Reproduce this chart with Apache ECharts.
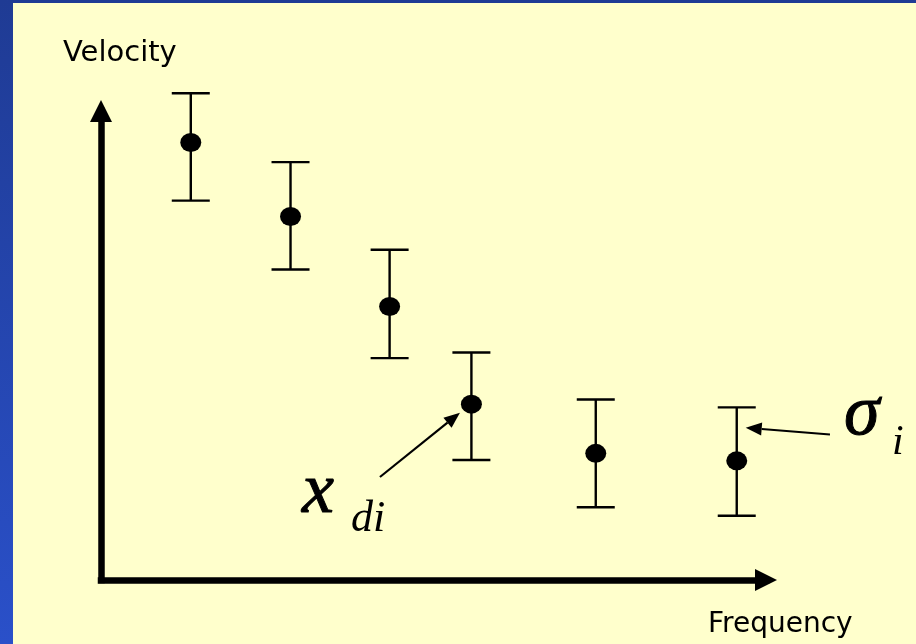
<!DOCTYPE html>
<html>
<head>
<meta charset="utf-8">
<script src="https://cdn.jsdelivr.net/npm/echarts@6/dist/echarts.min.js"></script>
<style>
  html, body { margin: 0; padding: 0; background: #FFFFCC; }
  #chart { width: 916px; height: 644px; }
</style>
</head>
<body>
<div id="chart"></div>
<script>
// Dispersion measurements: velocity against frequency with ±σ error bars
const freq     = [13.5, 28.5, 43.4, 55.7, 74.4, 95.6];
const velocity = [93.3, 77.5, 58.3, 37.5, 27.0, 25.4];
const upper    = [103.8, 89.1, 70.4, 48.5, 38.5, 36.8];
const lower    = [80.9, 66.2, 47.3, 25.6, 15.5, 13.7];

// Annotation arrows (data units): tail -> head
const arrowFrom = [[41.95, 21.96], [109.62, 31.02]];
const arrowTo   = [[53.98, 35.67], [96.95, 32.47]];
const annoMain  = ['x', 'σ'];
const annoSub   = ['di', 'i'];

// Label layout relative to the arrow tail (pixels): [dx, dy, fontSize]
const annoLayout = [
  { main: [-78, 16, 72], sub: [-29, 42, 44] },
  { main: [14, -19, 72], sub: [62, 8, 42] }
];

const chart = echarts.init(document.getElementById('chart'), null, { renderer: 'canvas' });

const axisCommon = {
  type: 'value',
  min: 0,
  max: 100,
  axisLine: {
    show: true,
    symbol: ['none', 'triangle'],
    symbolSize: [22, 22],
    lineStyle: { color: '#000', width: 6.5, cap: 'square' }
  },
  axisTick: { show: false },
  axisLabel: { show: false },
  splitLine: { show: false }
};

const errData = freq.map((f, i) => [f, lower[i], upper[i]]);
const pointData = freq.map((f, i) => [f, velocity[i]]);
const annoData = arrowFrom.map((a, i) => [a[0], a[1], arrowTo[i][0], arrowTo[i][1]]);

chart.setOption({
  backgroundColor: '#FFFFCC',
  animation: false,
  grid: { left: 101, right: 150, top: 111, bottom: 64 },
  xAxis: axisCommon,
  yAxis: axisCommon,
  graphic: [
    {
      type: 'rect', left: 0, top: 0, z: 100,
      shape: { width: 916, height: 3 },
      style: { fill: '#1F3B94' }
    },
    {
      type: 'rect', left: 0, top: 0, z: 100,
      shape: { width: 13, height: 644 },
      style: {
        fill: new echarts.graphic.LinearGradient(0, 0, 0, 1, [
          { offset: 0, color: '#1F3B94' },
          { offset: 1, color: '#2A50C9' }
        ])
      }
    },
    {
      type: 'text', left: 63, top: 39,
      style: { text: 'Velocity', font: '29px "DejaVu Sans"', fill: '#000' }
    },
    {
      type: 'text', left: 708, top: 611,
      style: { text: 'Frequency', font: '28px "DejaVu Sans"', fill: '#000' }
    }
  ],
  series: [
    {
      type: 'custom',
      name: 'error',
      clip: false,
      data: errData,
      encode: { x: 0, y: [1, 2] },
      renderItem: function (params, api) {
        const x = api.value(0);
        const lo = api.coord([x, api.value(1)]);
        const hi = api.coord([x, api.value(2)]);
        const half = 19;
        const st = { stroke: '#000', lineWidth: 2.4 };
        return {
          type: 'group',
          children: [
            { type: 'line', shape: { x1: lo[0], y1: lo[1], x2: hi[0], y2: hi[1] }, style: st },
            { type: 'line', shape: { x1: hi[0] - half, y1: hi[1], x2: hi[0] + half, y2: hi[1] }, style: st },
            { type: 'line', shape: { x1: lo[0] - half, y1: lo[1], x2: lo[0] + half, y2: lo[1] }, style: st }
          ]
        };
      }
    },
    {
      type: 'scatter',
      name: 'velocity',
      clip: false,
      data: pointData,
      symbol: 'circle',
      symbolSize: [21, 19],
      itemStyle: { color: '#000', opacity: 1 },
      emphasis: { disabled: true }
    },
    {
      type: 'custom',
      name: 'annotation',
      clip: false,
      data: annoData,
      encode: { x: [0, 2], y: [1, 3] },
      renderItem: function (params, api) {
        const i = params.dataIndex;
        const p0 = api.coord([api.value(0), api.value(1)]);
        const p1 = api.coord([api.value(2), api.value(3)]);
        const dx = p1[0] - p0[0], dy = p1[1] - p0[1];
        const len = Math.sqrt(dx * dx + dy * dy);
        const ux = dx / len, uy = dy / len;
        const headLen = 16, headHalf = 6.5;
        const bx = p1[0] - ux * headLen, by = p1[1] - uy * headLen;
        const lay = annoLayout[i];
        return {
          type: 'group',
          children: [
            {
              type: 'line',
              shape: { x1: p0[0], y1: p0[1], x2: bx, y2: by },
              style: { stroke: '#000', lineWidth: 2.2 }
            },
            {
              type: 'polygon',
              shape: { points: [p1, [bx - uy * headHalf, by + ux * headHalf], [bx + uy * headHalf, by - ux * headHalf]] },
              style: { fill: '#000' }
            },
            {
              type: 'text',
              x: p0[0] + lay.main[0], y: p0[1] + lay.main[1],
              style: {
                text: annoMain[i], fill: '#000', stroke: '#000', lineWidth: 1,
                font: 'italic ' + lay.main[2] + 'px "Liberation Serif"',
                align: 'left', verticalAlign: 'middle'
              }
            },
            {
              type: 'text',
              x: p0[0] + lay.sub[0], y: p0[1] + lay.sub[1],
              style: {
                text: annoSub[i], fill: '#000',
                font: 'italic ' + lay.sub[2] + 'px "Liberation Serif"',
                align: 'left', verticalAlign: 'middle'
              }
            }
          ]
        };
      }
    }
  ]
});
</script>
</body>
</html>
